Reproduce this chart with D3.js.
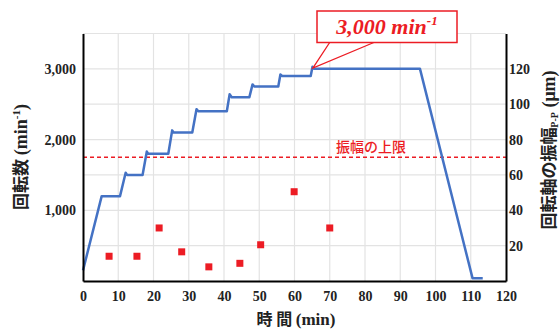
<!DOCTYPE html>
<html><head><meta charset="utf-8">
<script src="https://cdn.jsdelivr.net/npm/d3@7"></script>
<style>
body{margin:0;background:#fff;}
svg{display:block;}
.tick text{font-family:"Liberation Serif","Times New Roman",serif;font-weight:bold;font-size:14px;fill:#222;}
</style></head>
<body><svg id="c" width="560" height="329"></svg>
<script>
// ---- data ----
const lineTime = [0, 5.3, 10.5, 12.1, 12.5, 16.9, 18.1, 18.5, 24.2, 25.3, 25.7, 31.0, 32.2, 32.7, 40.8, 41.6, 42.2, 47.2, 48.1, 48.6, 55.4, 56.0, 56.5, 64.6, 65.1, 65.6, 95.6, 110.5, 113.4];
const lineRpm  = [150, 1200, 1200, 1530, 1500, 1500, 1830, 1800, 1800, 2130, 2100, 2100, 2430, 2400, 2400, 2640, 2600, 2600, 2780, 2750, 2750, 2920, 2900, 2900, 3030, 3000, 3000, 40, 40];
const ampTime = [7.4, 15.3, 21.6, 28.0, 35.7, 44.5, 50.4, 59.9, 70.0];
const ampVal  = [14, 14, 30, 16.5, 8, 10, 20.5, 50.5, 30];
const limitVal = 70;
const xTicks = [0,10,20,30,40,50,60,70,80,90,100,110,120];
const leftTicks = [1000, 2000, 3000];
const rightTicks = [20, 40, 60, 80, 100, 120];
const leftGrid = [500,1000,1500,2000,2500,3000,3500];
const calloutLabel = "3,000 min";
const limitLabel = "振幅の上限";

const svg = d3.select("#c");
const x = d3.scaleLinear([0,120],[83,506]);
const yL = d3.scaleLinear([0,3500],[281,33.5]);
const yR = d3.scaleLinear([0,140],[281,33.5]);
const red = "#ec1c24", blue = "#4472c4";

// gridlines
svg.append("g").selectAll("line").data(xTicks.slice(1,-1)).join("line")
  .attr("x1",d=>x(d)).attr("x2",d=>x(d)).attr("y1",yL(3500)).attr("y2",yL(0))
  .attr("stroke","#e3e3e3").attr("stroke-width",1.2);
svg.append("g").selectAll("line").data(leftGrid).join("line")
  .attr("x1",x(0)).attr("x2",x(120)).attr("y1",d=>yL(d)).attr("y2",d=>yL(d))
  .attr("stroke","#e3e3e3").attr("stroke-width",1.2);

// limit line
const ly = yR(limitVal);
svg.append("line").attr("x1",x(0)).attr("x2",x(120)).attr("y1",ly).attr("y2",ly)
  .attr("stroke",red).attr("stroke-width",1.5).attr("stroke-dasharray","4,3");
svg.append("text").attr("x",x(81.7)).attr("y",ly-5).attr("text-anchor","middle")
  .attr("font-family","'Noto Sans CJK JP',sans-serif").attr("font-weight",500).attr("font-size",14).attr("fill",red).text(limitLabel);

// speed line
const pts = lineTime.map((t,i)=>[t,lineRpm[i]]);
svg.append("path").attr("d",d3.line().x(d=>x(d[0])).y(d=>yL(d[1]))(pts))
  .attr("fill","none").attr("stroke",blue).attr("stroke-width",2.5).attr("stroke-linejoin","round");

// amplitude squares
svg.append("g").selectAll("rect").data(ampTime.map((t,i)=>[t,ampVal[i]])).join("rect")
  .attr("x",d=>x(d[0])-3.5).attr("y",d=>yR(d[1])-3.5).attr("width",7).attr("height",7).attr("fill",red);

// axes
const ax = svg.append("g").attr("transform",`translate(0,${yL(0)})`)
  .call(d3.axisBottom(x).tickValues(xTicks).tickSize(0).tickPadding(10).tickSizeOuter(0));
const al = svg.append("g").attr("transform",`translate(${x(0)},0)`)
  .call(d3.axisLeft(yL).tickValues(leftTicks).tickFormat(d3.format(",")).tickSize(0).tickPadding(7).tickSizeOuter(0));
const ar = svg.append("g").attr("transform",`translate(${x(120)},0)`)
  .call(d3.axisRight(yR).tickValues(rightTicks).tickSize(0).tickPadding(3).tickSizeOuter(0));
[ax,al,ar].forEach(g=>g.select(".domain").attr("stroke","#000").attr("stroke-width",2));

// axis titles
const cjk = "'Noto Sans CJK JP',sans-serif", serif = "'Liberation Serif','Times New Roman',serif";
const xt = svg.append("text").attr("x",296).attr("y",325).attr("text-anchor","middle")
  .attr("font-weight","bold").attr("font-size",16).attr("fill","#222");
xt.append("tspan").attr("font-family",cjk).text("時 間 ");
xt.append("tspan").attr("font-family",serif).attr("font-size",17).text("(min)");

const lt = svg.append("text").attr("transform","translate(27,157) rotate(-90)").attr("text-anchor","middle")
  .attr("font-weight","bold").attr("font-size",17).attr("fill","#222");
lt.append("tspan").attr("font-family",cjk).text("回転数 ");
lt.append("tspan").attr("font-family",serif).attr("font-size",18).text("(min");
lt.append("tspan").attr("font-family",serif).attr("font-size",11).attr("dy",-7).text("-1");
lt.append("tspan").attr("font-family",serif).attr("font-size",18).attr("dy",7).text(")");

const rt = svg.append("text").attr("transform","translate(555,150) rotate(-90)").attr("text-anchor","middle")
  .attr("font-weight","bold").attr("font-size",17).attr("fill","#222");
rt.append("tspan").attr("font-family",cjk).text("回転軸の振幅");
rt.append("tspan").attr("font-family",serif).attr("font-size",10).attr("dy",3).text("P-P");
rt.append("tspan").attr("font-family",serif).attr("font-size",18).attr("dy",-3).text(" (μm)");

// callout
const tip = [x(65.2), yL(3010)];
svg.append("path").attr("d",`M330,42 L${tip[0]},${tip[1]} L375,42`)
  .attr("fill","#fff").attr("stroke",red).attr("stroke-width",1.3);
svg.append("rect").attr("x",317).attr("y",11).attr("width",140).attr("height",31.5)
  .attr("fill","#fff").attr("stroke",red).attr("stroke-width",1.5);
const ct = svg.append("text").attr("x",387).attr("y",34).attr("text-anchor","middle")
  .attr("font-family",serif).attr("font-style","italic").attr("font-weight","bold").attr("font-size",22).attr("fill",red);
ct.append("tspan").text(calloutLabel);
ct.append("tspan").attr("font-size",13).attr("dy",-9).text("-1");
</script></body></html>
